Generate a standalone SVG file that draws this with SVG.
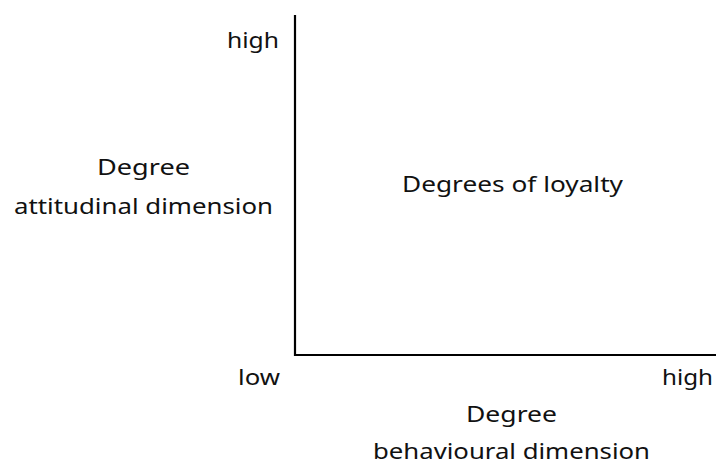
<svg xmlns="http://www.w3.org/2000/svg" width="720" height="464" viewBox="0 0 720 464">
<style>
text{font-family:"Noto Sans","Open Sans",sans-serif;font-size:22.5px;fill:#111}
.axis{stroke:#000;stroke-width:2.2;fill:none}
</style>
<rect width="720" height="464" fill="#fff"/>
<g id="connectors">
<path class="axis" d="M295,15 V355 H716"/>
</g>
<g id="y-labels">
<text x="227" y="48" textLength="52" lengthAdjust="spacingAndGlyphs">high</text>
<text x="97" y="175" textLength="93" lengthAdjust="spacingAndGlyphs">Degree</text>
<text x="14" y="214" textLength="259" lengthAdjust="spacingAndGlyphs">attitudinal dimension</text>
</g>
<g id="center">
<text x="402" y="192" textLength="221" lengthAdjust="spacingAndGlyphs">Degrees of loyalty</text>
</g>
<g id="x-labels">
<text x="238" y="385" textLength="42" lengthAdjust="spacingAndGlyphs">low</text>
<text x="662" y="385" textLength="51" lengthAdjust="spacingAndGlyphs">high</text>
<text x="466" y="422" textLength="91" lengthAdjust="spacingAndGlyphs">Degree</text>
<text x="373" y="459" textLength="277" lengthAdjust="spacingAndGlyphs">behavioural dimension</text>
</g>
</svg>
